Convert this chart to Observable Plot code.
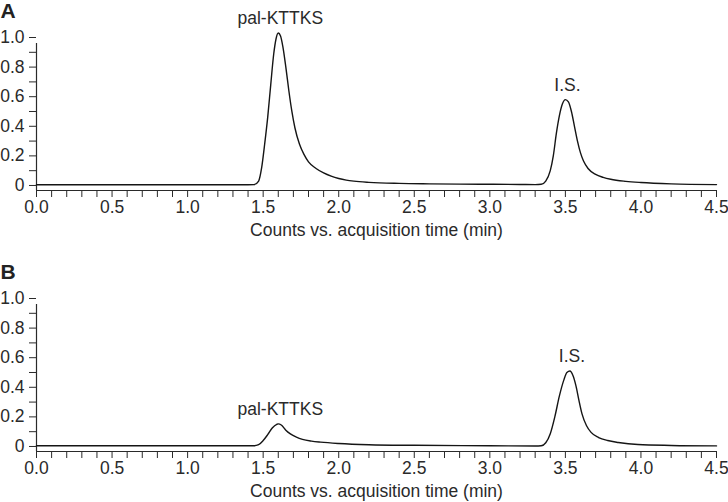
<!DOCTYPE html>
<html>
<head>
<meta charset="utf-8">
<script src="https://cdn.jsdelivr.net/npm/d3@7"></script>
<script src="https://cdn.jsdelivr.net/npm/@observablehq/plot@0.6"></script>
<style>
  html, body { margin: 0; padding: 0; background: #fff; overflow: hidden; }
  #wrap { position: relative; width: 728px; height: 502px; }
  .panel { position: absolute; left: 0; width: 728px; }
  svg { font-family: "Liberation Sans", Arial, Helvetica, sans-serif; color: #2a2a2a; }
</style>
</head>
<body>
<div id="wrap">
  <div class="panel" id="pa" style="top:0px"></div>
  <div class="panel" id="pb" style="top:261px"></div>
</div>
<script>
// Panel A: time (min) and relative counts
const timeA = [0.0, 0.5, 1.0, 1.4, 1.44, 1.47, 1.49, 1.51, 1.53, 1.55, 1.57, 1.585, 1.60, 1.615, 1.63, 1.65, 1.67, 1.69, 1.71, 1.74, 1.77, 1.80, 1.85, 1.90, 1.95, 2.0, 2.05, 2.1, 2.2, 2.4, 2.6, 2.8, 3.0, 3.2, 3.3, 3.34, 3.37, 3.40, 3.42, 3.44, 3.46, 3.48, 3.50, 3.52, 3.54, 3.56, 3.58, 3.60, 3.62, 3.65, 3.70, 3.75, 3.80, 3.90, 4.0, 4.2, 4.5];
const countsA = [0.005, 0.005, 0.005, 0.005, 0.006, 0.03, 0.12, 0.28, 0.46, 0.68, 0.89, 0.99, 1.03, 1.01, 0.94, 0.80, 0.64, 0.50, 0.39, 0.28, 0.21, 0.16, 0.115, 0.085, 0.063, 0.047, 0.036, 0.029, 0.021, 0.014, 0.011, 0.009, 0.008, 0.007, 0.006, 0.008, 0.03, 0.10, 0.20, 0.35, 0.47, 0.55, 0.58, 0.565, 0.50, 0.40, 0.30, 0.22, 0.165, 0.115, 0.075, 0.055, 0.042, 0.028, 0.02, 0.011, 0.006];

// Panel B
const timeB = [0.0, 1.0, 1.44, 1.47, 1.50, 1.53, 1.56, 1.59, 1.60, 1.62, 1.65, 1.68, 1.72, 1.76, 1.82, 1.88, 2.0, 2.2, 2.5, 3.0, 3.3, 3.34, 3.37, 3.40, 3.43, 3.46, 3.49, 3.51, 3.53, 3.55, 3.57, 3.59, 3.61, 3.64, 3.67, 3.72, 3.78, 3.85, 3.98, 4.2, 4.5];
const countsB = [0.005, 0.005, 0.005, 0.012, 0.04, 0.08, 0.125, 0.15, 0.153, 0.145, 0.11, 0.085, 0.063, 0.048, 0.036, 0.029, 0.02, 0.012, 0.008, 0.005, 0.003, 0.005, 0.025, 0.086, 0.20, 0.34, 0.45, 0.50, 0.51, 0.48, 0.41, 0.31, 0.22, 0.14, 0.095, 0.06, 0.04, 0.027, 0.013, 0.007, 0.004];

// Peak annotations
const peakNames = ["pal-KTTKS", "I.S."];
const peakTimesA = [1.60, 3.50];
const peakTimesB = [1.60, 3.53];

// Axes
const xTicks = [0.0, 0.5, 1.0, 1.5, 2.0, 2.5, 3.0, 3.5, 4.0, 4.5];
const xMinorTicks = [0.1, 0.2, 0.3, 0.4, 0.6, 0.7, 0.8, 0.9, 1.1, 1.2, 1.3, 1.4, 1.6, 1.7, 1.8, 1.9, 2.1, 2.2, 2.3, 2.4, 2.6, 2.7, 2.8, 2.9, 3.1, 3.2, 3.3, 3.4, 3.6, 3.7, 3.8, 3.9, 4.1, 4.2, 4.3, 4.4];
const yTicks = [0, 0.2, 0.4, 0.6, 0.8, 1.0];
const yMinorTicks = [0.1, 0.3, 0.5, 0.7, 0.9];
const xTitle = "Counts vs. acquisition time (min)";
const panelLetters = ["A", "B"];

const Y_MIN = -0.034;
const INK = "#2a2a2a";
const FS = 17.5;

function panel(times, counts, peakTimes, letter) {
  const data = times.map((t, i) => ({t, v: counts[i]}));
  const peaks = peakTimes.map((pt, i) => {
    const near = data.filter(d => Math.abs(d.t - pt) < 0.2);
    const best = near.reduce((a, b) => (b.v > a.v ? b : a));
    return {name: peakNames[i], t: best.t, v: best.v};
  });
  return Plot.plot({
    width: 728,
    height: 242,
    marginLeft: 36,
    marginRight: 12,
    marginTop: 37,
    marginBottom: 52,
    style: {fontSize: FS + "px", fontFamily: '"Liberation Sans", Arial, sans-serif', color: INK, overflow: "visible"},
    x: {domain: [0, 4.5]},
    y: {domain: [Y_MIN, 1.0]},
    marks: [
      Plot.axisX(xTicks, {tickSize: 7, tickPadding: 3, tickFormat: d => d.toFixed(1), label: null, stroke: INK, fill: INK, fontSize: FS}),
      Plot.axisX(xMinorTicks, {tickSize: 7, tickFormat: () => "", label: null, stroke: INK}),
      Plot.axisY(yTicks, {tickSize: 7, tickPadding: 5, tickFormat: d => d === 0 ? "0" : d.toFixed(1), label: null, stroke: INK, fill: INK, fontSize: FS}),
      Plot.axisY(yMinorTicks, {tickSize: 7, tickFormat: () => "", label: null, stroke: INK}),
      Plot.ruleY([Y_MIN], {x1: 0, x2: 4.5, stroke: INK, strokeWidth: 1.2}),
      Plot.ruleX([0], {y1: Y_MIN, y2: 1.0, stroke: INK, strokeWidth: 1.2, insetBottom: -6}),
      Plot.line(data, {x: "t", y: "v", curve: "monotone-x", stroke: "#151515", strokeWidth: 1.4}),
      Plot.text(peaks, {x: "t", y: "v", text: "name", dy: -9, dx: 2, lineAnchor: "bottom", fill: INK, fontSize: FS}),
      Plot.text([xTitle], {frameAnchor: "bottom", dy: 40, lineAnchor: "middle", fill: INK, fontSize: FS}),
      Plot.text([letter], {frameAnchor: "top-left", dx: -36, dy: -20, textAnchor: "start", lineAnchor: "bottom", fontWeight: "bold", fontSize: 21, fill: "#222"})
    ]
  });
}

document.getElementById("pa").appendChild(panel(timeA, countsA, peakTimesA, panelLetters[0]));
document.getElementById("pb").appendChild(panel(timeB, countsB, peakTimesB, panelLetters[1]));
</script>
</body>
</html>
